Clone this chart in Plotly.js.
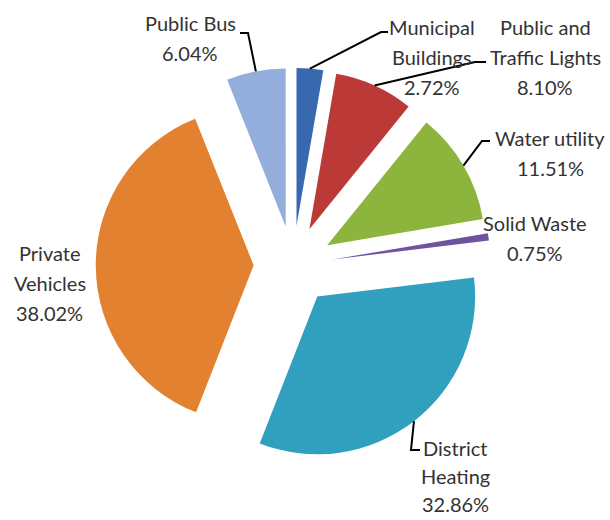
<!DOCTYPE html>
<html>
<head>
<meta charset="utf-8">
<script src="https://cdn.plot.ly/plotly-3.0.1.min.js"></script>
<style>
  html, body { margin: 0; padding: 0; background: #ffffff; }
  #chart { width: 610px; height: 520px; }
</style>
</head>
<body>
<div id="chart"></div>
<script>
// slices in clockwise order starting at 12 o'clock
var categories = ['Municipal Buildings', 'Public and Traffic Lights', 'Water utility', 'Solid Waste',
                  'District Heating', 'Private Vehicles', 'Public Bus'];
var labelLines = [['Municipal', 'Buildings'], ['Public and', 'Traffic Lights'], ['Water utility'],
                  ['Solid Waste'], ['District', 'Heating'], ['Private', 'Vehicles'], ['Public Bus']];
var shares = [2.72, 8.10, 11.51, 0.75, 32.86, 38.02, 6.04];

var sliceColors = ['#3868AF', '#BB3A38', '#8DB43D', '#6E53A0', '#31A0BE', '#E28231', '#93ADDC'];
var explode = 0.25;

// label placement in pixels: text centre, line step, leader elbow and end next to the text
var labelPos = [
    { x: 432, y: 57,  step: 30, elbow: [381, 32],  end: [388, 32] },
    { x: 545, y: 57,  step: 30, elbow: [475, 62],  end: [486, 62] },
    { x: 550, y: 153, step: 30, elbow: [482, 141], end: [490, 141] },
    { x: 535, y: 238, step: 30, elbow: null },
    { x: 455, y: 476, step: 28, elbow: [411, 450], end: [420, 450] },
    { x: 50,  y: 283, step: 30, elbow: null },
    { x: 190, y: 38,  step: 30, elbow: [248, 33],  end: [240, 33] }
];

var W = 610, H = 520;
var labelFont = { family: 'Lato, "Open Sans", sans-serif', size: 20, color: '#333333' };

var trace = {
    type: 'pie',
    labels: categories,
    values: shares,
    sort: false,
    direction: 'clockwise',
    rotation: 0,
    pull: explode,
    marker: { colors: sliceColors, line: { width: 0 } },
    textinfo: 'none',
    hoverinfo: 'label+percent',
    domain: { x: [0.157, 0.804], y: [0.108, 0.872] }
};

// one annotation per text line so the line spacing matches
var annotations = [];
categories.forEach(function (c, i) {
    var lines = labelLines[i].concat([shares[i].toFixed(2) + '%']);
    lines.forEach(function (t, k) {
        var yPix = labelPos[i].y + (k - (lines.length - 1) / 2) * labelPos[i].step;
        annotations.push({
            xref: 'paper', yref: 'paper',
            x: labelPos[i].x / W, y: 1 - yPix / H,
            xanchor: 'center', yanchor: 'middle',
            showarrow: false,
            text: t,
            font: labelFont
        });
    });
});

var layout = {
    width: W,
    height: H,
    margin: { l: 0, r: 0, t: 0, b: 0 },
    paper_bgcolor: '#ffffff',
    showlegend: false,
    annotations: annotations
};

Plotly.newPlot('chart', [trace], layout, { displayModeBar: false }).then(function (gd) {
    var cd = gd.calcdata[0];
    var cx = cd[0].cx, cy = cd[0].cy, r = cd[0].r;
    var total = shares.reduce(function (a, b) { return a + b; }, 0);
    var cum = 0;
    var shapes = [];
    function px(p) { return (p / W).toFixed(5); }
    function py(p) { return (1 - p / H).toFixed(5); }

    shares.forEach(function (v, i) {
        var mid = 2 * Math.PI * (cum + v / 2) / total;
        cum += v;
        var lp = labelPos[i];
        if (!lp.elbow) return;
        // point on the arc of the pulled slice
        var dx = Math.sin(mid), dy = -Math.cos(mid);
        var ax = cx + (1 + explode) * r * dx;
        var ay = cy + (1 + explode) * r * dy;
        shapes.push({
            type: 'path', xref: 'paper', yref: 'paper',
            path: 'M' + px(ax) + ',' + py(ay) +
                  ' L' + px(lp.elbow[0]) + ',' + py(lp.elbow[1]) +
                  ' L' + px(lp.end[0]) + ',' + py(lp.end[1]),
            line: { color: '#000000', width: 2 }
        });
    });
    Plotly.relayout(gd, { shapes: shapes });
});
</script>
</body>
</html>
